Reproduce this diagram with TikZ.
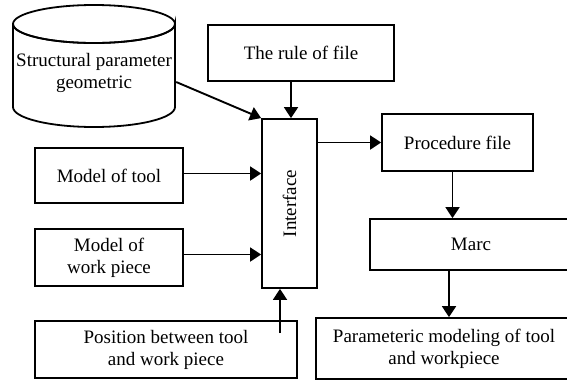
\documentclass[tikz,border=0pt]{standalone}
\usepackage{fontspec}
\setmainfont{Liberation Serif}
\usetikzlibrary{arrows.meta,calc}
\begin{document}
\begin{tikzpicture}[x=1pt,y=-1pt,
  every node/.style={font=\fontsize{19}{22}\selectfont, align=center, inner sep=0pt},
  box/.style={draw, line width=1.8pt, rectangle},
  arr/.style={line width=1.9pt, -{Triangle[length=11pt,width=14pt]}}]
\useasboundingbox (0,0) rectangle (567,381);
% cylinder
\draw[line width=1.8pt] (13,24) -- (13,107) arc[start angle=180,end angle=0,x radius=81,y radius=20]
  -- (175,24) arc[start angle=0,end angle=360,x radius=81,y radius=19];
\draw[line width=1.8pt] (13,24) arc[start angle=180,end angle=0,x radius=81,y radius=19];
\node[minimum width=162pt,minimum height=60pt] (cyl) at (94,73) {Structural parameter\\geometric};
% boxes
\node[box,minimum width=186pt,minimum height=56pt] (rule) at (301,53) {The rule of file};
\node[box,minimum width=55pt,minimum height=169pt] (iface) at (289.5,203.5) {};
\node[rotate=90] (ifacetxt) at (iface.center) {Interface};
\node[box,minimum width=151pt,minimum height=57pt] (proc) at (457.5,142.5) {Procedure file};
\node[box,minimum width=202pt,minimum height=51pt] (marc) at (471,244.5) {Marc};
\node[box,minimum width=256pt,minimum height=61pt] (final) at (444,348.5) {Parameteric modeling of tool\\and workpiece};
\node[box,minimum width=148pt,minimum height=55pt] (tool) at (109,175.5) {Model of tool};
\node[box,minimum width=148pt,minimum height=57pt] (work) at (109,257.5) {Model of\\work piece};
\node[box,minimum width=262pt,minimum height=57pt] (pos) at (166,349.5) {Position between tool\\and work piece};
% connectors
\coordinate (c1) at ($(cyl.east)+(1,9)$);
\draw[arr] (c1) -- (iface.north west);
\draw[arr] ($(rule.south)+(-10,0)$) -- ($(iface.north)+(1.5,0)$);
\draw[arr] ($(tool.east)+(0,-2)$) -- ($(tool.east -| iface.west)+(0,-2)$);
\draw[arr] ($(work.east)+(0,-3)$) -- ($(work.east -| iface.west)+(0,-3)$);
\coordinate (p) at (280,333);
\draw[arr] (p) -- (p |- iface.south);
\draw[arr] (iface.east |- proc.west) -- (proc.west);
\draw[arr] ($(proc.south)+(-5,0)$) -- ($(proc.south |- marc.north)+(-5,0)$);
\draw[arr] (marc.south -| 449,0) -- (final.north -| 449,0);
\end{tikzpicture}
\end{document}
